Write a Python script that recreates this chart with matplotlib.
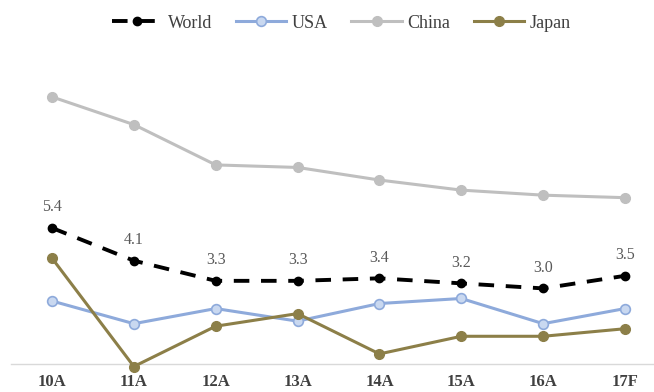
import matplotlib

matplotlib.use("Agg")
import matplotlib.pyplot as plt

# GDP growth, % y/y
years = ["10A", "11A", "12A", "13A", "14A", "15A", "16A", "17F"]
world = [5.4, 4.1, 3.3, 3.3, 3.4, 3.2, 3.0, 3.5]
usa = [2.5, 1.6, 2.2, 1.7, 2.4, 2.6, 1.6, 2.2]
china = [10.6, 9.5, 7.9, 7.8, 7.3, 6.9, 6.7, 6.6]
japan = [4.2, -0.1, 1.5, 2.0, 0.4, 1.1, 1.1, 1.4]

plt.rcParams["font.family"] = ["Liberation Serif", "DejaVu Serif"]

W, H = 654, 392
fig = plt.figure(figsize=(W / 100, H / 100), dpi=100)
ax = fig.add_axes([0, 28 / H, 1, 336 / H])

x = list(range(len(years)))

ax.plot(x, china, color="#bfbfbf", lw=2.2, marker="o", ms=7,
        mfc="#bfbfbf", mec="#bfbfbf", label="China", clip_on=False, zorder=2)
ax.plot(x, usa, color="#8eaadb", lw=2.2, marker="o", ms=7,
        mfc="#c9d8f0", mec="#8eaadb", mew=1.2, label="USA", clip_on=False, zorder=3)
ax.plot(x, japan, color="#8c7f48", lw=2.2, marker="o", ms=7,
        mfc="#8c7f48", mec="#8c7f48", label="Japan", clip_on=False, zorder=3)
ax.plot(x, world, color="black", lw=2.8, dashes=(4, 3), marker="o", ms=6,
        mfc="black", mec="black", label="World", clip_on=False, zorder=4)

for xi, v in zip(x, world):
    ax.annotate(f"{v:.1f}", (xi, v), xytext=(0, 9), textcoords="offset points",
                ha="center", va="bottom", fontsize=11.5, color="#595959")

ax.set_xlim(-52 / 81.86, (W - 52) / 81.86)
ax.set_ylim(0, 336 / 25.2)

for side in ["top", "right", "left"]:
    ax.spines[side].set_visible(False)
ax.spines["bottom"].set_color("#d9d9d9")
ax.spines["bottom"].set_linewidth(1.0)
ax.spines["bottom"].set_bounds(-0.5, 7.5)

ax.set_yticks([])
ax.set_xticks(x)
ax.set_xticklabels(years, fontsize=12, fontweight="bold", color="#404040")
ax.tick_params(axis="x", length=0, pad=7)

handles, labels = ax.get_legend_handles_labels()
order = [3, 1, 0, 2]
fig.legend([handles[i] for i in order], [labels[i] for i in order],
           loc="center", bbox_to_anchor=(0.522, 1 - 23 / H), ncol=4,
           frameon=False, fontsize=13, handlelength=2.8, columnspacing=1.3,
           handletextpad=0.3, labelcolor="#404040")

fig.savefig("out.png", dpi=100)
